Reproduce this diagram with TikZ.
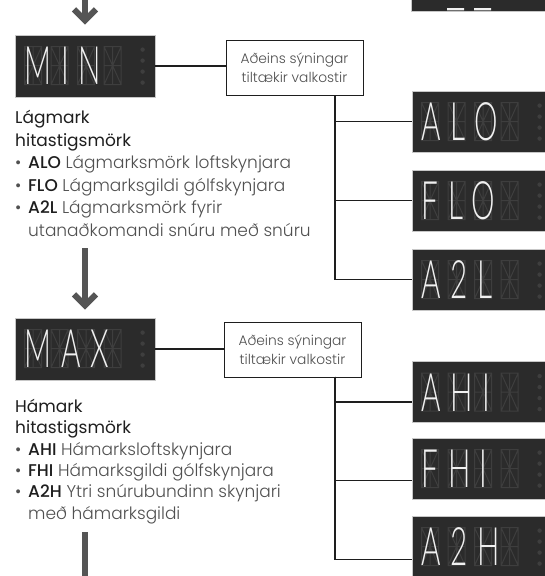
\documentclass[tikz,border=0pt]{standalone}
\usepackage{fontspec}
\setmainfont{Poppins}[UprightFont=*-Light, BoldFont=*-Medium]
\newfontfamily\headfont{Poppins}[UprightFont=*-Regular]
\newfontfamily\lcdfont{Lato}[UprightFont=*-Light, LetterSpace=32]
\usetikzlibrary{arrows.meta,positioning,calc}
\definecolor{panel}{HTML}{2B2B2B}
\definecolor{ghost}{HTML}{3E3E3E}
\definecolor{flow}{HTML}{555555}
\definecolor{txt}{HTML}{505050}
\definecolor{ink}{HTML}{1E1E1E}

\tikzset{
  panelbox/.style={fill=panel, draw=black!22, line width=0.8pt, minimum width=140pt, inner sep=0pt},
  ghostseg/.style={draw=ghost, line width=1pt},
  lcdtext/.style={text=white!94!black, inner sep=0pt, anchor=base west},
  notebox/.style={draw=ink, line width=0.9pt, fill=white, minimum width=137pt, minimum height=55pt,
    align=center, text=txt, font=\fontsize{13.8}{18.5}\selectfont},
  link/.style={draw=ink, line width=1.2pt},
  bigarrow/.style={draw=flow, line width=6pt, -{Straight Barb[length=11pt, width=22pt]}},
  shaft/.style={draw=flow, line width=6pt},
  infotext/.style={anchor=north west, inner sep=0pt, align=left, text=txt}
}

% one segment display: name, centre, height, readout
\newcommand\lcdpanel[4]{%
  \node[panelbox, minimum height=#3] (#1) at #2 {};
  \begin{scope}[shift={(#1.north west)}]
    \foreach \k in {0,...,3}{
      \draw[ghostseg] (10+26.5*\k,12) rectangle ++(17,38)
        (18.5+26.5*\k,12) -- ++(0,38)
        (10+26.5*\k,31) -- ++(17,0)
        (10+26.5*\k,12) -- ++(17,38)
        (27+26.5*\k,12) -- ++(-17,38);
    }
    \foreach \j in {0,...,3}
      \fill[ghost] (128,15+11*\j) circle (2.2);
    \node[lcdtext] (#1-txt) at (10,50) {\scalebox{0.56}[1]{\lcdfont\fontsize{53}{53}\selectfont #4}};
  \end{scope}
}
\newcommand\bul{\makebox[13pt][l]{\textbullet}}

\begin{document}
\begin{tikzpicture}[x=1pt, y=-1pt]
\useasboundingbox (0,0) rectangle (545,576);
\clip (0,0) rectangle (545,576);

% left column
\lcdpanel{min}{(85,66)}{62pt}{MIN}
\lcdpanel{max}{(85,349)}{62pt}{MAX}

% right column
\lcdpanel{prev}{(481,-20)}{62pt}{}
\fill[white!94!black] (447,8) rectangle ++(17,2.4) (474,8) rectangle ++(17,2.4);
\lcdpanel{alo}{(482,121.5)}{61pt}{ALO}
\lcdpanel{flo}{(482,200.5)}{61pt}{FLO}
\lcdpanel{a2l}{(482,279.5)}{61pt}{A2L}
\lcdpanel{ahi}{(482,392)}{61pt}{AHI}
\lcdpanel{fhi}{(482,468.5)}{61pt}{FHI}
\lcdpanel{a2h}{(482,546.5)}{61pt}{A2H}

% notes
\node[notebox] (note1) at (294.5,67.5) {Aðeins sýningar\\tiltækir valkostir};
\node[notebox] (note2) at (292.5,349.5) {Aðeins sýningar\\tiltækir valkostir};

\draw[link] (min.east) -- (min.east -| note1.west);
\draw[link] (max.east) -- (max.east -| note2.west);

\coordinate (trunk1) at (335,95);
\draw[link] (trunk1) |- (alo.west);
\draw[link] (trunk1) |- (flo.west);
\draw[link] (trunk1) |- (a2l.west);

\coordinate (trunk2) at (335,376.5);
\draw[link] (trunk2) |- ([yshift=-10pt]ahi.west);
\draw[link] (trunk2) |- ([yshift=-12pt]fhi.west);
\draw[link] (trunk2) |- ([yshift=-13pt]a2h.west);

% text blocks
\node[infotext, font=\fontsize{17}{22.6}\selectfont] (lowinfo) at (15,110) {%
  {\headfont\color{ink}Lágmark}\\
  {\headfont\color{ink}hitastigsmörk}\\
  \bul\textbf{\color{ink}ALO} Lágmarksmörk loftskynjara\\
  \bul\textbf{\color{ink}FLO} Lágmarksgildi gólfskynjara\\
  \bul\textbf{\color{ink}A2L} Lágmarksmörk fyrir\\
  \hspace*{13pt}utanaðkomandi snúru með snúru};
\node[infotext, font=\fontsize{17}{21.3}\selectfont] (highinfo) at (15,399) {%
  {\headfont\color{ink}Hámark}\\
  {\headfont\color{ink}hitastigsmörk}\\
  \bul\textbf{\color{ink}AHI} Hámarksloftskynjara\\
  \bul\textbf{\color{ink}FHI} Hámarksgildi gólfskynjara\\
  \bul\textbf{\color{ink}A2H} Ytri snúrubundinn skynjari\\
  \hspace*{13pt}með hámarksgildi};

% flow arrows
\coordinate (entry) at (85,-5);
\draw[bigarrow] (entry) -- ([yshift=10pt]min.north);
\coordinate (step2) at (85,248);
\draw[bigarrow] (step2) -- ([yshift=8pt]max.north);
\coordinate (step3) at (85,532);
\coordinate (exit) at (85,585);
\draw[shaft] (step3) -- (exit);
\end{tikzpicture}
\end{document}
